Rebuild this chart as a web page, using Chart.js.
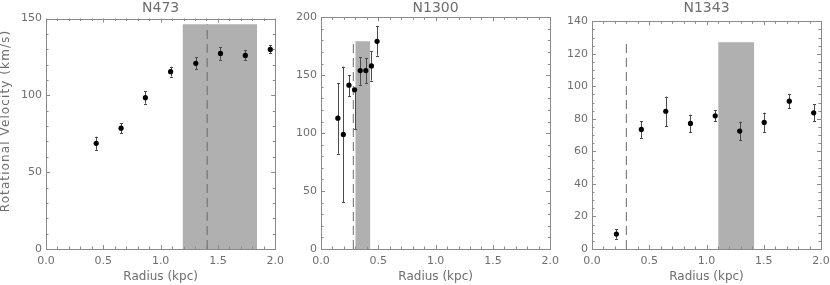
<!DOCTYPE html>
<html><head><meta charset="utf-8">
<script src="https://cdn.jsdelivr.net/npm/chart.js@4.4.1/dist/chart.umd.min.js"></script>
<style>
html,body{margin:0;padding:0;background:#fff;overflow:hidden;width:830px;height:285px;}
canvas{position:absolute;top:0;}
</style></head><body>
<canvas id="c1" width="290" height="285" style="left:0px"></canvas>
<canvas id="c2" width="285" height="285" style="left:280px"></canvas>
<canvas id="c3" width="290" height="285" style="left:555px"></canvas>
<script>
// ---- data ----
const titles = ['N473', 'N1300', 'N1343'];
const xTitle = 'Radius (kpc)';
const yTitle = 'Rotational Velocity (km/s)';

const n473Radius = [0.438, 0.655, 0.867, 1.087, 1.307, 1.522, 1.739, 1.957];
const n473Vel    = [68.8, 78.6, 98.5, 115.4, 120.8, 127.3, 126.0, 129.9];
const n473ErrLo  = [4.3, 3.2, 4.0, 3.2, 3.9, 4.1, 3.2, 2.6];
const n473ErrHi  = [4.3, 3.2, 4.0, 3.2, 3.9, 4.1, 3.2, 2.6];
const n473Band   = [1.191, 1.841];
const n473BandTop = 146.2;
const n473Dash   = 1.406;

const n1300Radius = [0.147, 0.195, 0.244, 0.293, 0.342, 0.391, 0.440, 0.489];
const n1300Vel    = [112.9, 98.9, 141.4, 137.4, 154.0, 154.0, 158.0, 179.3];
const n1300ErrLo  = [30.7, 58.7, 9.2, 34.0, 12.3, 10.6, 12.6, 12.4];
const n1300ErrHi  = [30.2, 58.6, 8.6, 0.0, 11.5, 10.6, 12.6, 13.2];
const n1300Band   = [0.299, 0.431];
const n1300BandTop = 179.3;
const n1300Dash   = 0.282;

const n1343Radius = [0.213, 0.431, 0.644, 0.860, 1.076, 1.290, 1.504, 1.723, 1.936];
const n1343Vel    = [9.2, 73.5, 84.7, 77.2, 81.9, 72.5, 77.8, 90.9, 83.7];
const n1343ErrLo  = [2.9, 5.2, 9.0, 5.4, 3.5, 5.7, 6.0, 4.2, 5.3];
const n1343ErrHi  = [2.9, 5.2, 9.0, 5.4, 3.5, 5.7, 6.0, 4.2, 5.3];
const n1343Band   = [1.102, 1.417];
const n1343BandTop = 127.1;
const n1343Dash   = 0.300;

const xRange = [0, 2];
const yMaxes = [150, 200, 140];
const yMinorSteps = [10, 10, 5];
const yMajorSteps = [50, 50, 20];
const xMinorStep = 0.1;
const xMajorStep = 0.5;

// ---- styling ----
const FONT = 'DejaVu Sans';
const TEXT = '#6e6e6e';
const AXIS = '#8a8a8a';

function isMult(v, s) { return Math.abs(v / s - Math.round(v / s)) < 1e-6; }

const framePlugin = {
  id: 'frame',
  beforeDatasetDraw(chart, args) {
    if (args.meta.type !== 'scatter') return;
    const o = chart.options.plugins.frame;
    const { ctx, scales: { x, y } } = chart;
    ctx.save();
    ctx.strokeStyle = '#4a4a4a';
    ctx.lineWidth = 1;
    o.r.forEach((r, i) => {
      const px = Math.round(x.getPixelForValue(r)) + 0.5;
      const yLo = y.getPixelForValue(o.v[i] - o.lo[i]);
      const yHi = y.getPixelForValue(o.v[i] + o.hi[i]);
      ctx.beginPath();
      ctx.moveTo(px, yLo); ctx.lineTo(px, yHi);
      ctx.moveTo(px - 1.5, Math.round(yLo) + 0.5); ctx.lineTo(px + 1.5, Math.round(yLo) + 0.5);
      if (o.hi[i] > 0) { ctx.moveTo(px - 1.5, Math.round(yHi) + 0.5); ctx.lineTo(px + 1.5, Math.round(yHi) + 0.5); }
      ctx.stroke();
    });
    ctx.restore();
  },
  afterDraw(chart) {
    const o = chart.options.plugins.frame;
    const { ctx, chartArea: a, scales: { x, y } } = chart;
    ctx.save();
    ctx.strokeStyle = AXIS;
    ctx.lineWidth = 1;
    ctx.strokeRect(Math.round(a.left) + 0.5, Math.round(a.top) + 0.5,
                   Math.round(a.right) - Math.round(a.left), Math.round(a.bottom) - Math.round(a.top));
    ctx.beginPath();
    x.ticks.forEach(t => {
      const px = Math.round(x.getPixelForValue(t.value)) + 0.5;
      const len = isMult(t.value, xMajorStep) ? 4 : 2.5;
      ctx.moveTo(px, a.bottom); ctx.lineTo(px, a.bottom - len);
      ctx.moveTo(px, a.top); ctx.lineTo(px, a.top + len);
    });
    y.ticks.forEach(t => {
      const py = Math.round(y.getPixelForValue(t.value)) + 0.5;
      const len = isMult(t.value, o.yMajor) ? 4 : 2.5;
      ctx.moveTo(a.left, py); ctx.lineTo(a.left + len, py);
      ctx.moveTo(a.right, py); ctx.lineTo(a.right - len, py);
    });
    ctx.stroke();
    ctx.fillStyle = TEXT;
    ctx.font = '14px "' + FONT + '"';
    ctx.textAlign = 'center';
    ctx.textBaseline = 'middle';
    ctx.fillText(o.title, (a.left + a.right) / 2, 8);
    if (o.showYTitle) {
      ctx.font = '12px "' + FONT + '"';
      ctx.letterSpacing = '1.1px';
      ctx.translate(6, 121);
      ctx.rotate(-Math.PI / 2);
      ctx.fillText(yTitle, 0, 0);
    }
    ctx.restore();
  }
};

function makeChart(id, idx, r, v, lo, hi, band, bandTop, dash, yAxisWidth, topPad, rightPad) {
  const pts = r.map((rr, i) => ({ x: rr, y: v[i] }));
  return new Chart(document.getElementById(id), {
    data: {
      datasets: [
        { type: 'scatter', data: pts, pointRadius: 2.6, pointHoverRadius: 2.6,
          backgroundColor: '#000', borderColor: '#000', borderWidth: 0, order: 0 },
        { type: 'line', data: [{ x: dash, y: 0 }, { x: dash, y: bandTop }],
          borderColor: '#6a6a6a', borderWidth: 1, borderDash: [9, 5], pointRadius: 0, fill: false, order: 1 },
        { type: 'line', data: [{ x: band[0], y: bandTop }, { x: band[1], y: bandTop }],
          borderColor: 'rgba(0,0,0,0)', borderWidth: 0, backgroundColor: '#b0b0b0',
          fill: 'origin', pointRadius: 0, order: 2 }
      ]
    },
    options: {
      responsive: false,
      animation: false,
      events: [],
      layout: { padding: { top: topPad, right: rightPad, left: 0, bottom: 0 } },
      plugins: {
        legend: { display: false },
        tooltip: { enabled: false },
        frame: { title: titles[idx], yMajor: yMajorSteps[idx], r: r, v: v, lo: lo, hi: hi,
                 showYTitle: idx === 0 }
      },
      scales: {
        x: {
          type: 'linear', min: xRange[0], max: xRange[1],
          grid: { display: false, drawTicks: false }, border: { display: false },
          ticks: { stepSize: xMinorStep, autoSkip: false, maxRotation: 0, padding: 6,
                   color: TEXT, font: { family: FONT, size: 11 },
                   callback: val => isMult(val, xMajorStep) ? Number(val).toFixed(1) : '' },
          title: { display: true, text: xTitle, color: TEXT, font: { family: FONT, size: 12 },
                   padding: { top: 0, bottom: 1 } },
          afterFit: s => { s.height = 36; }
        },
        y: {
          type: 'linear', min: 0, max: yMaxes[idx],
          grid: { display: false, drawTicks: false }, border: { display: false },
          ticks: { stepSize: yMinorSteps[idx], autoSkip: false, padding: 4,
                   color: TEXT, font: { family: FONT, size: 11 },
                   callback: val => isMult(val, yMajorSteps[idx]) ? String(Math.round(val)) : '' },
          title: { display: false },
          afterFit: s => { s.width = yAxisWidth; }
        }
      }
    },
    plugins: [framePlugin]
  });
}

makeChart('c1', 0, n473Radius, n473Vel, n473ErrLo, n473ErrHi, n473Band, n473BandTop, n473Dash, 46, 18.5, 14);
makeChart('c2', 1, n1300Radius, n1300Vel, n1300ErrLo, n1300ErrHi, n1300Band, n1300BandTop, n1300Dash, 41, 17.3, 12);
makeChart('c3', 2, n1343Radius, n1343Vel, n1343ErrLo, n1343ErrHi, n1343Band, n1343BandTop, n1343Dash, 37, 21.3, 24);
</script>
</body></html>
